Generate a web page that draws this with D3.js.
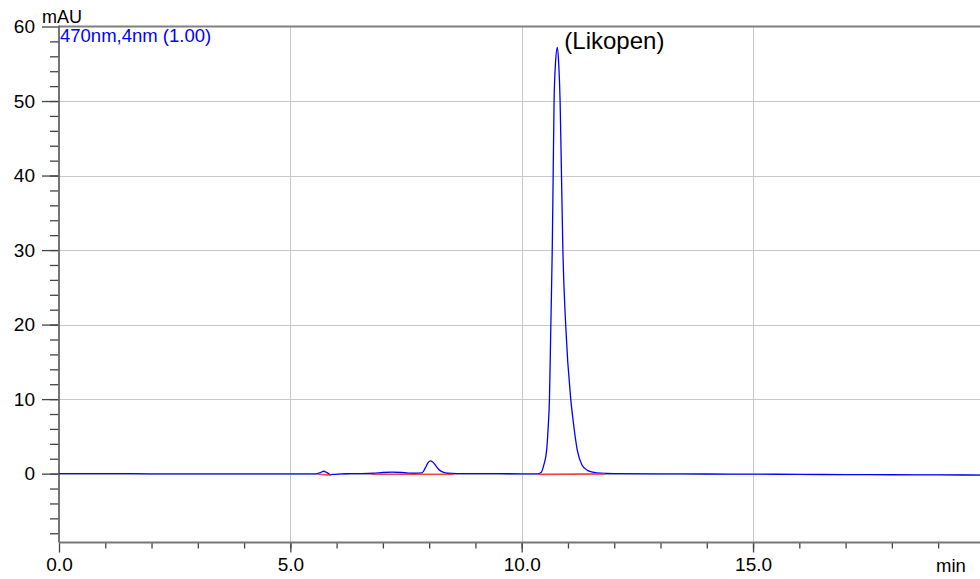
<!DOCTYPE html>
<html>
<head>
<meta charset="utf-8">
<script src="https://cdn.jsdelivr.net/npm/d3@7/dist/d3.min.js"></script>
<style>
  html, body { margin: 0; padding: 0; background: #fff; }
  svg { display: block; font-family: "Liberation Sans", Arial, sans-serif; }
</style>
</head>
<body>
<svg id="chart" width="980" height="579"></svg>
<script>
// ---- data ----
const timeMin = [0.0, 1.0, 2.0, 3.0, 4.0, 5.0, 5.55, 5.65, 5.72, 5.80, 5.87, 5.95, 6.1, 6.5, 6.8, 7.0, 7.2, 7.4, 7.55, 7.7, 7.84, 7.92, 7.97, 8.02, 8.07, 8.15, 8.22, 8.30, 8.4, 8.6, 9.0, 10.0, 10.35, 10.42, 10.48, 10.54, 10.57, 10.60, 10.63, 10.66, 10.68, 10.70, 10.73, 10.77, 10.80, 10.83, 10.86, 10.89, 10.95, 11.06, 11.11, 11.20, 11.30, 11.41, 11.54, 11.7, 12.0, 13.0, 14.0, 15.0, 16.0, 17.0, 18.0, 19.0, 20.0];
const signalMAU = [0.0, 0.0, -0.02, -0.03, -0.03, -0.03, -0.02, 0.15, 0.32, 0.1, -0.12, -0.1, -0.02, 0.0, 0.05, 0.15, 0.2, 0.15, 0.08, 0.05, 0.1, 0.8, 1.4, 1.7, 1.6, 1.0, 0.5, 0.2, 0.05, 0.0, 0.0, -0.02, -0.02, 0.15, 1.2, 3.2, 6.0, 10, 20, 30, 40, 50, 55, 57.2, 55, 50, 40, 30, 20, 10, 7.2, 3.2, 1.2, 0.5, 0.2, 0.05, 0.0, -0.03, -0.05, -0.07, -0.1, -0.13, -0.15, -0.17, -0.2];
// integration baselines (red)
const baseStartT = [5.60, 6.75, 10.36];
const baseStartV = [0.0, 0.0, -0.02];
const baseEndT = [5.88, 8.52, 11.80];
const baseEndV = [-0.12, 0.0, 0.05];
const xMajorTicks = [0, 5, 10, 15];
const xTickLabels = ["0.0", "5.0", "10.0", "15.0"];
const yMajorTicks = [0, 10, 20, 30, 40, 50, 60];
const yTickLabels = ["0", "10", "20", "30", "40", "50", "60"];
const legendText = "470nm,4nm (1.00)";
const peakName = "(Likopen)";
const peakTime = 10.77;
const peakValue = 57.2;

(function () {
  const svg = d3.select("#chart");
  const L = 59, T = 26.5, B = 542.5;
  const x = d3.scaleLinear().domain([0, 20]).range([L, L + 20 * 46.27]);
  const y = d3.scaleLinear().domain([-9.24, 60]).range([B, T]);

  // gridlines
  const grid = svg.append("g");
  grid.selectAll("line.v").data(xMajorTicks.filter(d => d > 0).concat([20])).enter().append("line")
    .attr("x1", d => Math.round(x(d)) + 0.5).attr("x2", d => Math.round(x(d)) + 0.5).attr("y1", T).attr("y2", B)
    .attr("stroke", "#c8c8c8").attr("stroke-width", 1);
  grid.selectAll("line.h").data(yMajorTicks.filter(d => d < 60)).enter().append("line")
    .attr("x1", L).attr("x2", 980).attr("y1", d => Math.round(y(d)) + 0.5).attr("y2", d => Math.round(y(d)) + 0.5)
    .attr("stroke", "#c8c8c8").attr("stroke-width", 1);

  // top border
  svg.append("line").attr("x1", L).attr("x2", 980).attr("y1", T).attr("y2", T)
    .attr("stroke", "#808080").attr("stroke-width", 2);

  // axes
  const yAxisMinor = d3.axisLeft(y).tickValues(d3.range(-8, 60, 2)).tickSize(9).tickFormat("");
  const yAxisMajor = d3.axisLeft(y).tickValues(yMajorTicks).tickSize(17).tickFormat((d, i) => yTickLabels[i]);
  const gy1 = svg.append("g").attr("transform", `translate(${L},0)`).call(yAxisMinor);
  const gy2 = svg.append("g").attr("transform", `translate(${L},0)`).call(yAxisMajor);
  [gy1, gy2].forEach(g => {
    g.select(".domain").remove();
    g.selectAll(".tick line").attr("stroke", "#444").attr("stroke-width", 1.3);
  });
  gy2.selectAll(".tick text").attr("font-size", 19).attr("fill", "#000").attr("x", -24)
    .attr("font-family", "Liberation Sans, Arial, sans-serif");

  const xAxisMinor = d3.axisBottom(x).tickValues(d3.range(1, 20, 1)).tickSize(6).tickFormat("");
  const xAxisMajor = d3.axisBottom(x).tickValues(xMajorTicks).tickSize(10).tickFormat((d, i) => xTickLabels[i]);
  const gx1 = svg.append("g").attr("transform", `translate(0,${B})`).call(xAxisMinor);
  const gx2 = svg.append("g").attr("transform", `translate(0,${B})`).call(xAxisMajor);
  [gx1, gx2].forEach(g => {
    g.select(".domain").remove();
    g.selectAll(".tick line").attr("stroke", "#444").attr("stroke-width", 1.3);
  });
  gx2.selectAll(".tick text").attr("font-size", 19).attr("fill", "#000").attr("y", 15)
    .attr("font-family", "Liberation Sans, Arial, sans-serif");

  // axis lines
  svg.append("line").attr("x1", L).attr("x2", L).attr("y1", T - 1).attr("y2", B)
    .attr("stroke", "#666").attr("stroke-width", 1.8);
  svg.append("line").attr("x1", L).attr("x2", 980).attr("y1", B).attr("y2", B)
    .attr("stroke", "#777").attr("stroke-width", 2);

  // axis titles
  svg.append("text").attr("x", 42).attr("y", 23).attr("font-size", 18).text("mAU");
  svg.append("text").attr("x", 936).attr("y", 572).attr("font-size", 18.5).text("min");

  // chromatogram
  const pts = timeMin.map((t, i) => [t, signalMAU[i]]);
  const line = d3.line().x(d => x(d[0])).y(d => y(d[1])).curve(d3.curveMonotoneX);
  svg.append("path").datum(pts).attr("d", line)
    .attr("fill", "none").attr("stroke", "#0000ff").attr("stroke-width", 1.3);

  // red integration baselines (drawn over the trace, as in the reference)
  svg.append("g").selectAll("line").data(baseStartT).enter().append("line")
    .attr("x1", (d, i) => x(baseStartT[i])).attr("y1", (d, i) => y(baseStartV[i]) + 0.6)
    .attr("x2", (d, i) => x(baseEndT[i])).attr("y2", (d, i) => y(baseEndV[i]) + 0.6)
    .attr("stroke", "#ff2a2a").attr("stroke-opacity", 0.85).attr("stroke-width", 1.6);

  // legend / annotation
  svg.append("text").attr("x", 60).attr("y", 42).attr("font-size", 18.5).attr("fill", "#0000ff").text(legendText);
  svg.append("text").attr("x", x(peakTime) + 7).attr("y", 49).attr("font-size", 24).attr("fill", "#000").text(peakName);
})();
</script>
</body>
</html>
